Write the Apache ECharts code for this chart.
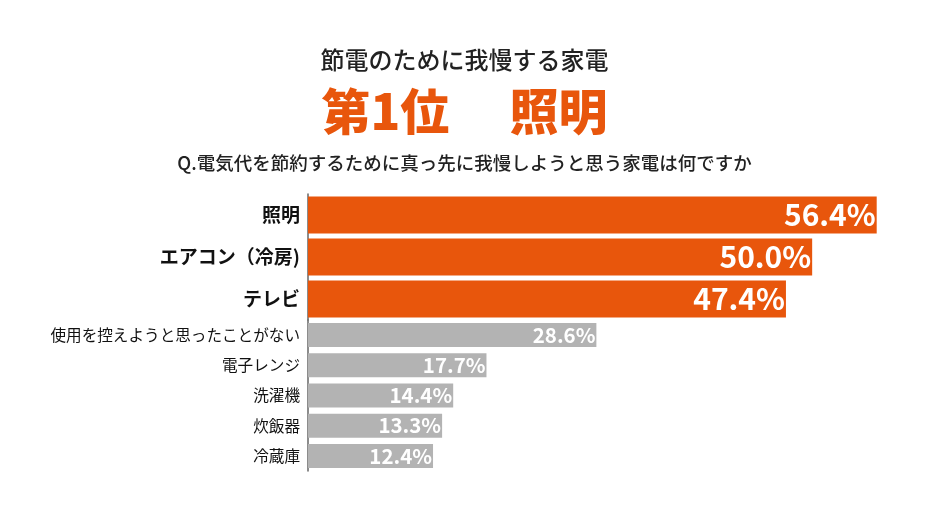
<!DOCTYPE html>
<html>
<head>
<meta charset="utf-8">
<script src="https://cdn.jsdelivr.net/npm/echarts@6/dist/echarts.min.js"></script>
<style>
    html, body { margin: 0; padding: 0; background: #fff; }
    #chart { width: 929px; height: 522px; }
</style>
</head>
<body>
<div id="chart"></div>
<script>
// top 3 (orange, big) and the rest (gray, small)
var topNames = ['照明', 'エアコン（冷房)', 'テレビ'];
var topValues = [56.4, 50.0, 47.4];
var restNames = ['使用を控えようと思ったことがない', '電子レンジ', '洗濯機', '炊飯器', '冷蔵庫'];
var restValues = [28.6, 17.7, 14.4, 13.3, 12.4];

var FONT = '"Noto Sans CJK JP", "Noto Sans", sans-serif';
var ORANGE = '#e8560c';
var GRAY = '#b3b3b3';

var chart = echarts.init(document.getElementById('chart'));

function yAxisOf(idx, names, size, weight) {
    return {
        type: 'category',
        gridIndex: idx,
        inverse: true,
        data: names,
        axisLine: { show: true, lineStyle: { color: '#666', width: 1.5 } },
        axisTick: { show: false },
        axisLabel: {
            margin: 8,
            color: '#111',
            fontFamily: FONT,
            fontSize: size,
            fontWeight: weight
        }
    };
}

function xAxisOf(idx) {
    return {
        type: 'value',
        gridIndex: idx,
        min: 0,
        max: 60,
        show: false
    };
}

chart.setOption({
    backgroundColor: '#fff',
    animation: false,
    title: [
        {
            text: '節電のために我慢する家電',
            left: 'center',
            top: 43,
            textStyle: { fontFamily: FONT, fontSize: 24, fontWeight: 500, color: '#222' }
        },
        {
            text: '第1位　 照明',
            left: 'center',
            top: 82,
            textStyle: { fontFamily: FONT, fontSize: 49, fontWeight: 900, color: ORANGE }
        },
        {
            text: 'Q.電気代を節約するために真っ先に我慢しようと思う家電は何ですか',
            left: 'center',
            top: 149,
            textStyle: { fontFamily: FONT, fontSize: 18.5, fontWeight: 500, color: '#222' }
        }
    ],
    grid: [
        { left: 308, right: 16, top: 194, height: 126 },
        { left: 308, right: 16, top: 320, height: 151 }
    ],
    xAxis: [xAxisOf(0), xAxisOf(1)],
    yAxis: [
        yAxisOf(0, topNames, 19, 'bold'),
        yAxisOf(1, restNames, 15.6, 'normal')
    ],
    series: [
        {
            type: 'bar',
            xAxisIndex: 0,
            yAxisIndex: 0,
            data: topValues,
            barWidth: 37,
            itemStyle: { color: ORANGE },
            label: {
                show: true,
                position: 'insideRight',
                distance: 1,
                color: '#fff',
                fontFamily: FONT,
                fontSize: 30,
                fontWeight: 'bold',
                formatter: function (p) { return p.value.toFixed(1) + '%'; }
            }
        },
        {
            type: 'bar',
            xAxisIndex: 1,
            yAxisIndex: 1,
            data: restValues,
            barWidth: 24,
            itemStyle: { color: GRAY },
            label: {
                show: true,
                position: 'insideRight',
                distance: 1,
                color: '#fff',
                fontFamily: FONT,
                fontSize: 20.5,
                fontWeight: 'bold',
                formatter: function (p) { return p.value.toFixed(1) + '%'; }
            }
        }
    ]
});
</script>
</body>
</html>
